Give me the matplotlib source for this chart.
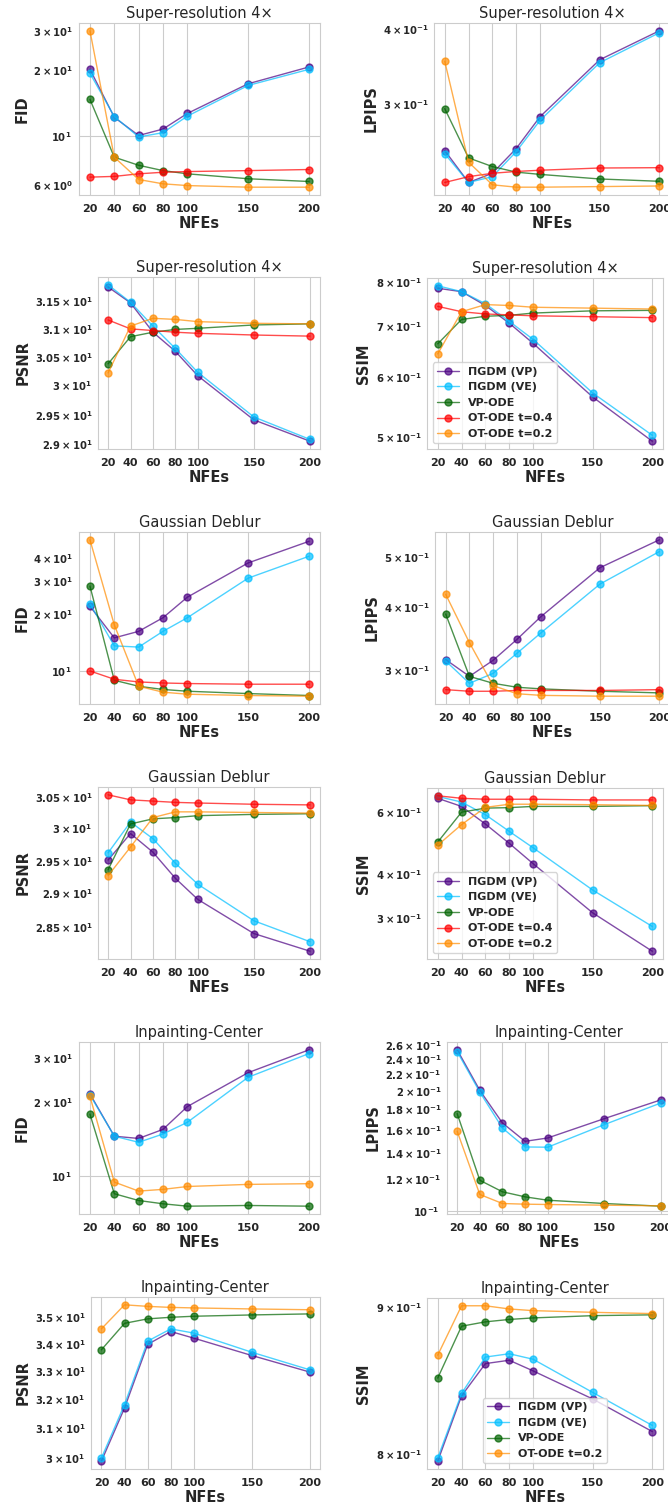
import matplotlib
matplotlib.use('Agg')
import matplotlib.pyplot as plt
import seaborn as sns

sns.set_style('whitegrid')
plt.rcParams['font.family'] = ['DejaVu Sans']
plt.rcParams['font.weight'] = 'bold'

#%% data
nfes = [20, 40, 60, 80, 100, 150, 200]
methods = ['ΠGDM (VP)', 'ΠGDM (VE)', 'VP-ODE', 'OT-ODE t=0.4', 'OT-ODE t=0.2']
colors = ['indigo', 'deepskyblue', 'darkgreen', 'red', 'darkorange']

# order of rows: VP, VE, VP-ODE, OT-ODE t=0.4, OT-ODE t=0.2
sr_fid = [
    [20.1, 12.2, 10.1, 10.8, 12.7, 17.3, 20.6],
    [19.3, 12.3, 9.95, 10.4, 12.35, 17.0, 20.1],
    [14.7, 8.06, 7.41, 7.01, 6.78, 6.44, 6.26],
    [6.55, 6.6, 6.78, 6.89, 6.94, 7.01, 7.09],
    [30.0, 8.06, 6.39, 6.11, 6.0, 5.9, 5.9],
]
sr_lpips = [
    [0.251, 0.222, 0.230, 0.253, 0.286, 0.356, 0.398],
    [0.248, 0.222, 0.227, 0.250, 0.282, 0.352, 0.395],
    [0.295, 0.244, 0.236, 0.231, 0.229, 0.225, 0.223],
    [0.222, 0.227, 0.230, 0.2316, 0.2327, 0.2347, 0.235],
    [0.354, 0.240, 0.220, 0.218, 0.218, 0.2185, 0.219],
]
sr_psnr = [
    [31.76, 31.47, 30.94, 30.60, 30.17, 29.41, 29.05],
    [31.80, 31.48, 31.05, 30.65, 30.23, 29.46, 29.08],
    [30.38, 30.86, 30.94, 30.99, 31.01, 31.07, 31.09],
    [31.16, 31.00, 30.97, 30.94, 30.92, 30.89, 30.87],
    [30.22, 31.05, 31.19, 31.17, 31.13, 31.10, 31.09],
]
sr_ssim = [
    [0.786, 0.778, 0.746, 0.707, 0.665, 0.565, 0.494],
    [0.792, 0.778, 0.750, 0.711, 0.673, 0.572, 0.503],
    [0.664, 0.715, 0.722, 0.724, 0.729, 0.734, 0.735],
    [0.744, 0.732, 0.727, 0.725, 0.723, 0.721, 0.719],
    [0.644, 0.732, 0.748, 0.746, 0.742, 0.740, 0.738],
]

# gaussian deblur
gd_fid = [
    [22.1, 15.0, 16.25, 19.2, 24.7, 37.6, 49.0],
    [22.8, 13.6, 13.4, 16.25, 19.2, 31.2, 40.8],
    [28.3, 8.92, 8.29, 7.97, 7.80, 7.58, 7.40],
    [10.0, 9.03, 8.74, 8.63, 8.57, 8.50, 8.50],
    [49.9, 17.6, 8.29, 7.71, 7.52, 7.40, 7.34],
]
gd_lpips = [
    [0.315, 0.292, 0.314, 0.345, 0.382, 0.477, 0.541],
    [0.313, 0.283, 0.296, 0.324, 0.355, 0.443, 0.513],
    [0.387, 0.292, 0.283, 0.278, 0.276, 0.273, 0.271],
    [0.275, 0.273, 0.273, 0.274, 0.274, 0.274, 0.275],
    [0.423, 0.340, 0.280, 0.270, 0.268, 0.267, 0.267],
]
gd_psnr = [
    [29.51, 29.92, 29.63, 29.23, 28.91, 28.40, 28.14],
    [29.62, 30.10, 29.84, 29.46, 29.14, 28.59, 28.28],
    [29.36, 30.07, 30.15, 30.17, 30.20, 30.22, 30.23],
    [30.53, 30.45, 30.43, 30.41, 30.40, 30.38, 30.37],
    [29.27, 29.71, 30.17, 30.26, 30.26, 30.25, 30.24],
]
gd_ssim = [
    [0.657, 0.623, 0.555, 0.489, 0.428, 0.310, 0.241],
    [0.665, 0.641, 0.590, 0.529, 0.475, 0.360, 0.2835],
    [0.493, 0.600, 0.616, 0.618, 0.623, 0.623, 0.626],
    [0.668, 0.657, 0.653, 0.653, 0.653, 0.650, 0.650],
    [0.483, 0.553, 0.619, 0.632, 0.632, 0.630, 0.627],
]

# inpainting-center (no OT-ODE t=0.4 run)
ic_fid = [
    [21.5, 14.5, 14.2, 15.45, 19.1, 26.2, 32.4],
    [21.3, 14.5, 13.7, 14.8, 16.5, 25.1, 31.3],
    [17.8, 8.49, 7.97, 7.73, 7.56, 7.61, 7.56],
    None,
    [21.0, 9.46, 8.70, 8.84, 9.08, 9.26, 9.32],
]
ic_lpips = [
    [0.2536, 0.2007, 0.1663, 0.1496, 0.1525, 0.1705, 0.190],
    [0.251, 0.1987, 0.1615, 0.1448, 0.1446, 0.1647, 0.1866],
    [0.1755, 0.1195, 0.1118, 0.1086, 0.1065, 0.1045, 0.1029],
    None,
    [0.1585, 0.1101, 0.1045, 0.1041, 0.1039, 0.1035, 0.1031],
]
ic_psnr = [
    [29.91, 31.70, 33.98, 34.46, 34.21, 33.57, 32.97],
    [30.01, 31.82, 34.10, 34.56, 34.40, 33.69, 33.05],
    [33.78, 34.77, 34.94, 35.00, 35.04, 35.09, 35.13],
    None,
    [34.56, 35.48, 35.42, 35.38, 35.36, 35.32, 35.29],
]
ic_ssim = [
    [0.7956, 0.8383, 0.8602, 0.8625, 0.8552, 0.8362, 0.8147],
    [0.7976, 0.8399, 0.8647, 0.8670, 0.8632, 0.8406, 0.8187],
    [0.8503, 0.8863, 0.8894, 0.8911, 0.8922, 0.8938, 0.8944],
    None,
    [0.8660, 0.9009, 0.9009, 0.8986, 0.8974, 0.8962, 0.8953],
]

#%% figure
W, H = 668, 1502
fig = plt.figure(figsize=(W / 100, H / 100), dpi=100)


def draw_panel(box, title, ylabel, series, legend_loc=None):
    left, right, top, bottom = box
    ax = fig.add_axes([left / W, 1 - bottom / H, (right - left) / W, (bottom - top) / H])
    for label, color, values in zip(methods, colors, series):
        if values is None:
            continue
        ax.plot(nfes, values, marker='o', color=color, alpha=0.7,
                linewidth=1, markersize=5, label=label)
    ax.set_yscale('log')
    ax.set_xticks(nfes)
    ax.set_xticklabels([str(n) for n in nfes])
    ax.tick_params(axis='x', labelsize=8, pad=3)
    ax.tick_params(axis='y', which='both', labelsize=7.2, pad=2)
    ax.set_title(title, fontsize=10.5, fontweight='normal', pad=3.5)
    ax.set_xlabel('NFEs', fontsize=10.5, fontweight='bold', labelpad=1.5)
    ax.set_ylabel(ylabel, fontsize=10.5, fontweight='bold', labelpad=3)
    if legend_loc is not None:
        ax.legend(loc=legend_loc, prop={'weight': 'bold', 'size': 8})
    return ax


draw_panel((79, 320, 23, 195), 'Super-resolution 4×', 'FID', sr_fid)
draw_panel((434, 670, 23, 195), 'Super-resolution 4×', 'LPIPS', sr_lpips)
draw_panel((98, 320, 277, 449), 'Super-resolution 4×', 'PSNR', sr_psnr)
draw_panel((427, 663, 278, 449), 'Super-resolution 4×', 'SSIM', sr_ssim, 'lower left')

draw_panel((79, 320, 532, 704), 'Gaussian Deblur', 'FID', gd_fid)
draw_panel((435, 670, 532, 704), 'Gaussian Deblur', 'LPIPS', gd_lpips)
draw_panel((98, 320, 787, 959), 'Gaussian Deblur', 'PSNR', gd_psnr)
draw_panel((427, 663, 788, 959), 'Gaussian Deblur', 'SSIM', gd_ssim, 'lower left')

draw_panel((79, 320, 1042, 1214), 'Inpainting-Center', 'FID', ic_fid)
draw_panel((447, 671, 1042, 1214), 'Inpainting-Center', 'LPIPS', ic_lpips)
draw_panel((91, 320, 1297, 1469), 'Inpainting-Center', 'PSNR', ic_psnr)
draw_panel((427, 663, 1298, 1469), 'Inpainting-Center', 'SSIM', ic_ssim, 'lower center')

fig.savefig('out.png', dpi=100)
